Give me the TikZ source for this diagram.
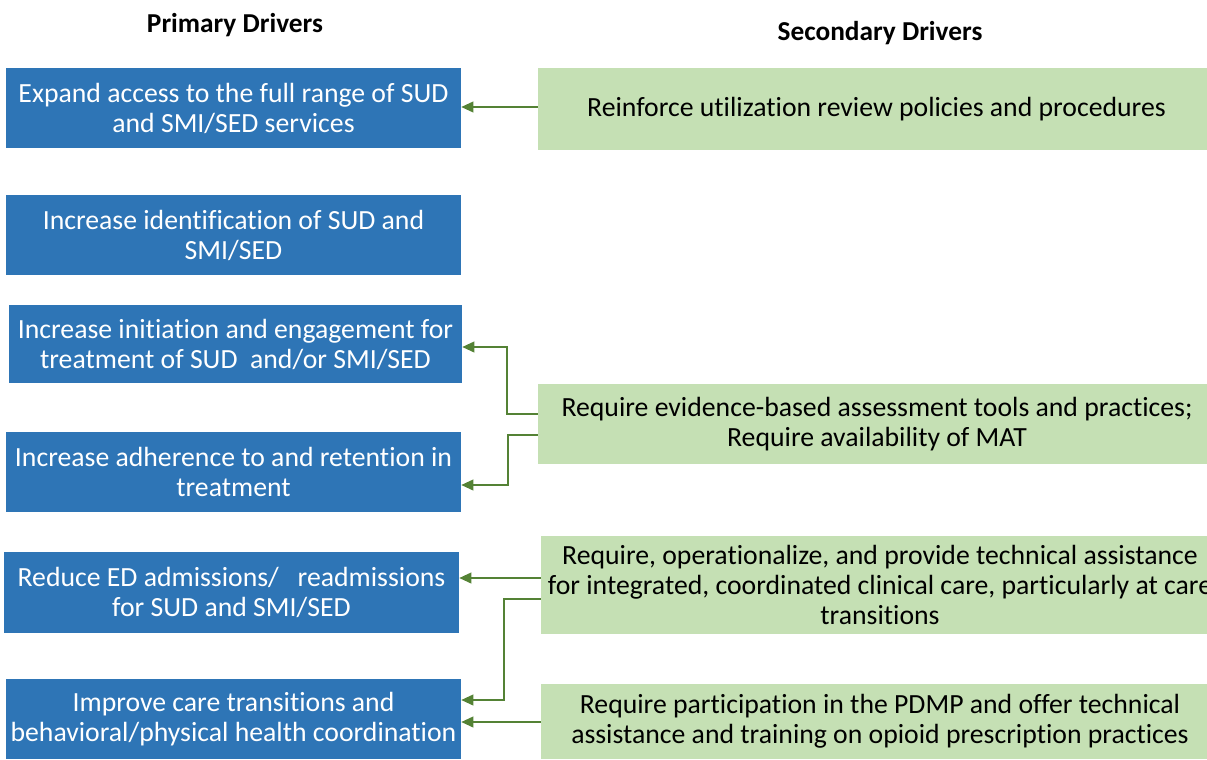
\documentclass[tikz,border=0pt]{standalone}
\usepackage{fontspec}
\setmainfont{Carlito}[Ligatures=NoCommon]
\usetikzlibrary{arrows.meta}
\definecolor{drvblue}{HTML}{2E75B6}
\definecolor{drvgreen}{HTML}{C5E0B4}
\definecolor{linkgreen}{HTML}{548235}
\tikzset{
  primary/.style={fill=drvblue, text=white, inner sep=0pt, align=center,
    font=\fontsize{20.8}{22.5}\selectfont},
  secondary/.style={fill=drvgreen, text=black, inner sep=0pt, align=center,
    font=\fontsize{20.8}{22.5}\selectfont},
  heading/.style={font=\fontsize{20.5}{22}\selectfont\bfseries, inner sep=0pt},
  link/.style={draw=linkgreen, line width=1.3pt,
    -{Triangle[length=9pt, width=8pt]}, shorten >=0pt}
}
\begin{document}
\begin{tikzpicture}[x=0.75pt, y=-0.75pt]
\useasboundingbox (0,0) rectangle (1207,760);

% column headings
\node[heading] (hp) at (235,25) {Primary Drivers};
\node[heading] (hs) at (880,33) {Secondary Drivers};

% primary drivers
\node[primary, minimum width=341.25pt, minimum height=60pt] (p1) at (233.5,108)
  {Expand access to the full range of SUD\\and SMI/SED services};
\node[primary, minimum width=341.25pt, minimum height=60pt] (p2) at (233.5,235)
  {Increase identification of SUD and\\SMI/SED};
\node[primary, minimum width=339.75pt, minimum height=58.5pt] (p3) at (235.5,344)
  {Increase initiation and engagement for\\treatment of SUD\ \ and/or SMI/SED};
\node[primary, minimum width=341.25pt, minimum height=60pt] (p4) at (233.5,472)
  {Increase adherence to and retention in\\treatment};
\node[primary, minimum width=341.25pt, minimum height=60.75pt] (p5) at (231.5,592.5)
  {Reduce ED admissions/\ \ \ readmissions\\for SUD and SMI/SED};
\node[primary, minimum width=341.25pt, minimum height=60pt] (p6) at (233.5,719)
  {Improve care transitions and\\behavioral/physical health coordination};

% secondary drivers
\node[secondary, minimum width=507.75pt, minimum height=61.5pt] (s1) at (876.5,109)
  {Reinforce utilization review policies and procedures};
\node[secondary, minimum width=508.5pt, minimum height=60pt] (s2) at (877,424)
  {Require evidence-based assessment tools and practices;\\Require availability of MAT};
\node[secondary, minimum width=508.5pt, minimum height=73.5pt] (s3) at (880,585)
  {Require, operationalize, and provide technical assistance\\for integrated, coordinated clinical care, particularly at care\\transitions};
\node[secondary, minimum width=508.5pt, minimum height=56.25pt] (s4) at (880,721.5)
  {Require participation in the PDMP and offer technical\\assistance and training on opioid prescription practices};

% links from secondary to primary drivers
\draw[link] (s1.west |- 0,107) -- (p1.east |- 0,107);
\draw[link] (s2.west |- 0,414) -- (507,414) -- (507,347) -- (p3.east |- 0,347);
\draw[link] (s2.west |- 0,435) -- (508,435) -- (508,485) -- (p4.east |- 0,485);
\draw[link] (s3.west |- 0,578) -- (p5.east |- 0,578);
\draw[link] (s3.west |- 0,599) -- (504,599) -- (504,700) -- (p6.east |- 0,700);
\draw[link] (s4.west |- 0,722) -- (p6.east |- 0,722);
\end{tikzpicture}
\end{document}
